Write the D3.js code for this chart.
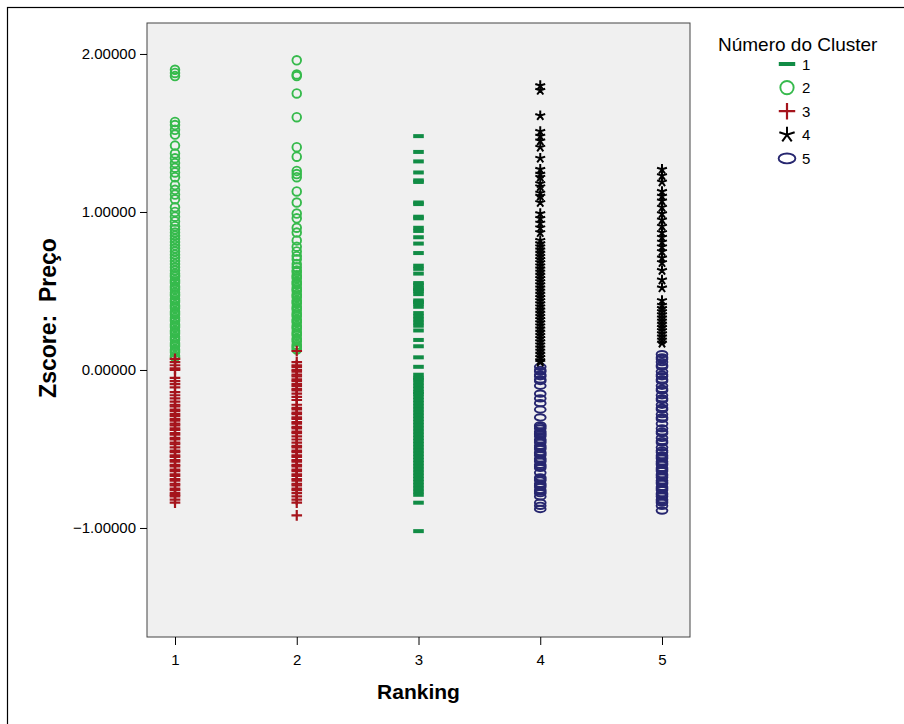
<!DOCTYPE html>
<html>
<head>
<meta charset="utf-8">
<script src="https://cdn.jsdelivr.net/npm/d3@7"></script>
<style>
  body { margin: 0; background: #fff; }
  svg { font-family: "Liberation Sans", Arial, sans-serif; }
</style>
</head>
<body>
<div id="chart"></div>
<script>
// Values, one list per ranking/cluster
const rankings = [1, 2, 3, 4, 5];
const yTicks = [-1, 0, 1, 2];
const clusterNames = ["1", "2", "3", "4", "5"];

const c2Rank1 = [1.90, 1.88, 1.86, 1.57, 1.55, 1.52, 1.49, 1.42, 1.37, 1.34, 1.31, 1.28, 1.25, 1.22, 1.17, 1.14, 1.11, 1.08, 1.03, 1.00, 0.97, 0.94, 0.91, 0.89, 0.87, 0.85, 0.83, 0.81, 0.79, 0.77, 0.75, 0.73, 0.71, 0.69, 0.67, 0.65, 0.63, 0.61, 0.60, 0.59, 0.57, 0.56, 0.55, 0.53, 0.52, 0.51, 0.49, 0.48, 0.47, 0.45, 0.44, 0.43, 0.41, 0.40, 0.39, 0.37, 0.36, 0.35, 0.33, 0.32, 0.31, 0.29, 0.28, 0.27, 0.25, 0.24, 0.23, 0.21, 0.20, 0.19, 0.17, 0.16, 0.15, 0.13, 0.12, 0.11, 0.09, 0.08];
const c3Rank1 = [0.07, 0.05, 0.03, 0.01, 0.00, -0.05, -0.07, -0.09, -0.11, -0.14, -0.16, -0.18, -0.20, -0.22, -0.23, -0.25, -0.26, -0.28, -0.29, -0.31, -0.32, -0.34, -0.35, -0.37, -0.38, -0.40, -0.41, -0.43, -0.44, -0.46, -0.47, -0.49, -0.51, -0.52, -0.54, -0.55, -0.57, -0.58, -0.60, -0.61, -0.63, -0.64, -0.66, -0.67, -0.69, -0.70, -0.72, -0.73, -0.75, -0.76, -0.78, -0.79, -0.80, -0.82, -0.84];
const c2Rank2 = [1.96, 1.87, 1.86, 1.75, 1.60, 1.41, 1.35, 1.26, 1.24, 1.22, 1.13, 1.06, 0.99, 0.96, 0.90, 0.87, 0.82, 0.78, 0.75, 0.72, 0.70, 0.67, 0.65, 0.63, 0.62, 0.60, 0.59, 0.58, 0.56, 0.55, 0.54, 0.52, 0.51, 0.50, 0.48, 0.47, 0.46, 0.44, 0.43, 0.42, 0.40, 0.39, 0.38, 0.36, 0.35, 0.34, 0.32, 0.31, 0.30, 0.28, 0.27, 0.26, 0.24, 0.23, 0.22, 0.20, 0.19, 0.18, 0.16, 0.15, 0.14, 0.13];
const c3Rank2 = [0.12, 0.05, 0.03, 0.02, 0.00, -0.01, -0.03, -0.04, -0.06, -0.07, -0.09, -0.10, -0.12, -0.13, -0.15, -0.17, -0.19, -0.22, -0.24, -0.25, -0.27, -0.28, -0.30, -0.31, -0.33, -0.34, -0.36, -0.37, -0.39, -0.40, -0.42, -0.44, -0.46, -0.48, -0.49, -0.51, -0.52, -0.54, -0.55, -0.57, -0.58, -0.60, -0.61, -0.63, -0.64, -0.66, -0.67, -0.69, -0.70, -0.72, -0.73, -0.75, -0.76, -0.78, -0.80, -0.82, -0.84, -0.92];
const c1Rank3 = [1.48, 1.38, 1.32, 1.25, 1.20, 1.19, 1.06, 1.05, 0.97, 0.96, 0.90, 0.88, 0.84, 0.80, 0.74, 0.66, 0.64, 0.61, 0.55, 0.54, 0.52, 0.51, 0.50, 0.48, 0.44, 0.43, 0.42, 0.40, 0.36, 0.34, 0.32, 0.30, 0.28, 0.25, 0.19, 0.15, 0.08, 0.02, -0.03, -0.05, -0.06, -0.08, -0.10, -0.12, -0.14, -0.15, -0.17, -0.19, -0.21, -0.23, -0.25, -0.27, -0.29, -0.31, -0.33, -0.35, -0.37, -0.39, -0.41, -0.43, -0.45, -0.47, -0.49, -0.51, -0.53, -0.55, -0.57, -0.59, -0.61, -0.63, -0.65, -0.67, -0.69, -0.71, -0.73, -0.75, -0.77, -0.79, -0.84, -1.02];
const c5Rank4 = [0.02, 0.00, -0.01, -0.03, -0.04, -0.06, -0.07, -0.10, -0.15, -0.18, -0.21, -0.25, -0.30, -0.35, -0.36, -0.37, -0.39, -0.40, -0.41, -0.42, -0.44, -0.45, -0.46, -0.48, -0.49, -0.50, -0.52, -0.53, -0.54, -0.56, -0.57, -0.58, -0.60, -0.61, -0.62, -0.65, -0.68, -0.69, -0.70, -0.72, -0.73, -0.74, -0.76, -0.77, -0.78, -0.80, -0.84, -0.86, -0.88];
const c4Rank4 = [1.80, 1.77, 1.61, 1.51, 1.48, 1.45, 1.41, 1.34, 1.27, 1.24, 1.22, 1.18, 1.16, 1.12, 1.10, 1.06, 0.99, 0.96, 0.93, 0.90, 0.87, 0.82, 0.80, 0.78, 0.76, 0.74, 0.72, 0.70, 0.68, 0.66, 0.64, 0.62, 0.60, 0.58, 0.56, 0.54, 0.52, 0.50, 0.48, 0.46, 0.44, 0.42, 0.40, 0.38, 0.36, 0.34, 0.32, 0.30, 0.28, 0.26, 0.24, 0.22, 0.20, 0.18, 0.16, 0.14, 0.12, 0.10, 0.08, 0.06, 0.05];
const c5Rank5 = [0.10, 0.08, 0.07, 0.05, 0.03, 0.02, -0.01, -0.03, -0.04, -0.06, -0.07, -0.10, -0.12, -0.13, -0.16, -0.18, -0.19, -0.22, -0.24, -0.25, -0.28, -0.30, -0.31, -0.34, -0.37, -0.39, -0.40, -0.43, -0.45, -0.46, -0.49, -0.51, -0.52, -0.54, -0.55, -0.56, -0.58, -0.59, -0.60, -0.62, -0.63, -0.64, -0.66, -0.67, -0.68, -0.70, -0.71, -0.72, -0.74, -0.75, -0.76, -0.78, -0.79, -0.80, -0.82, -0.83, -0.84, -0.86, -0.89];
const c4Rank5 = [1.27, 1.23, 1.19, 1.13, 1.10, 1.07, 1.03, 0.99, 0.95, 0.91, 0.87, 0.84, 0.81, 0.78, 0.75, 0.71, 0.68, 0.63, 0.57, 0.52, 0.44, 0.41, 0.39, 0.37, 0.35, 0.33, 0.31, 0.29, 0.27, 0.25, 0.23, 0.21, 0.19, 0.17];

// groups in drawing order: [ranking, cluster, values]
const groups = [
    [1, 2, c2Rank1], [1, 3, c3Rank1],
    [2, 2, c2Rank2], [2, 3, c3Rank2],
    [3, 1, c1Rank3],
    [4, 5, c5Rank4], [4, 4, c4Rank4],
    [5, 5, c5Rank5], [5, 4, c4Rank5]
];

const colors = { 1: "#118c45", 2: "#36ba4c", 3: "#a5141c", 4: "#000000", 5: "#26266f" };

const W = 904, H = 724;
const plot = { left: 147, top: 23, right: 690, bottom: 637 };

const svg = d3.select("#chart").append("svg")
    .attr("width", W)
    .attr("height", H);

// outer frame
svg.append("rect")
    .attr("x", 7.5).attr("y", 7.5)
    .attr("width", W + 10).attr("height", H + 10)
    .attr("fill", "none").attr("stroke", "#000").attr("stroke-width", 1.2);

const x = d3.scaleLinear().domain([0.77, 5.23]).range([plot.left, plot.right]);
const y = d3.scaleLinear().domain([-1.69, 2.196]).range([plot.bottom, plot.top]);

svg.append("rect")
    .attr("x", plot.left).attr("y", plot.top)
    .attr("width", plot.right - plot.left).attr("height", plot.bottom - plot.top)
    .attr("fill", "#f0f0f0").attr("stroke", "#444").attr("stroke-width", 1);

// axes
const yAxis = d3.axisLeft(y).tickValues(yTicks).tickFormat(d3.format(".5f")).tickSize(7).tickPadding(4);
const gy = svg.append("g").attr("transform", `translate(${plot.left},0)`).call(yAxis);
gy.select(".domain").remove();
gy.selectAll("text").style("font-size", "15px").attr("fill", "#000");

const xAxis = d3.axisBottom(x).tickValues(rankings).tickFormat(d3.format("d")).tickSize(8).tickPadding(9);
const gx = svg.append("g").attr("transform", `translate(0,${plot.bottom})`).call(xAxis);
gx.select(".domain").remove();
gx.selectAll("text").style("font-size", "15px").attr("fill", "#000");

svg.append("text")
    .attr("x", x(3)).attr("y", 699)
    .attr("text-anchor", "middle")
    .style("font-size", "21px").style("font-weight", "bold")
    .text("Ranking");

svg.append("text")
    .attr("transform", `translate(56,${(plot.top + plot.bottom) / 2 - 12}) rotate(-90)`)
    .attr("text-anchor", "middle")
    .style("font-size", "23px").style("font-weight", "bold")
    .style("white-space", "pre")
    .text("Zscore:  Preço");

// marker drawing, s = scale (1 in plot, bigger in legend)
function starPath(s) {
    const r = 5.2 * s;
    let p = "";
    for (let i = 0; i < 5; i++) {
        const a = -Math.PI / 2 + i * 2 * Math.PI / 5;
        p += `M0,0L${(r * Math.cos(a)).toFixed(2)},${(r * Math.sin(a)).toFixed(2)}`;
    }
    return p;
}

function drawMarker(g, cluster, s) {
    const c = colors[cluster];
    if (cluster === 1) {
        g.append("rect").attr("x", -5.3 * s).attr("y", -2)
            .attr("width", 10.6 * s).attr("height", 4).attr("fill", c);
    } else if (cluster === 2) {
        g.append("circle").attr("r", 4.3 * s).attr("fill", "none")
            .attr("stroke", c).attr("stroke-width", 1.9);
    } else if (cluster === 3) {
        const r = 5.3 * s;
        g.append("path").attr("d", `M${-r},0H${r}M0,${-r}V${r}`)
            .attr("stroke", c).attr("stroke-width", 2.2).attr("fill", "none");
    } else if (cluster === 4) {
        g.append("path").attr("d", starPath(s))
            .attr("stroke", c).attr("stroke-width", 2).attr("fill", "none");
    } else {
        g.append("ellipse").attr("rx", 5.4 * s).attr("ry", 3.2 * s).attr("fill", "none")
            .attr("stroke", c).attr("stroke-width", 1.9);
    }
}

const marks = svg.append("g").attr("class", "marks");
groups.forEach(([rank, cluster, values]) => {
    values.forEach(v => {
        const g = marks.append("g").attr("transform", `translate(${x(rank)},${y(v)})`);
        drawMarker(g, cluster, 1);
    });
});

// legend
const legend = svg.append("g").attr("class", "legend");
legend.append("text")
    .attr("x", 718).attr("y", 51)
    .style("font-size", "19px")
    .text("Número do Cluster");

clusterNames.forEach((name, i) => {
    const cy = 64 + i * 23.6;
    const g = legend.append("g").attr("transform", `translate(787,${cy})`);
    drawMarker(g, i + 1, 1.55);
    legend.append("text")
        .attr("x", 802).attr("y", cy + 5.5)
        .style("font-size", "15px")
        .text(name);
});
</script>
</body>
</html>
